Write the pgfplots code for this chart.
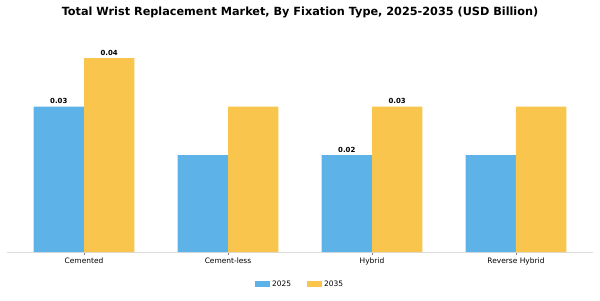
\documentclass[border=0pt]{standalone}
\usepackage{fontspec}
\setmainfont{DejaVu Sans}
\usepackage{pgfplots}
\pgfplotsset{compat=1.18}
\definecolor{cblue}{HTML}{5DB3E8}
\definecolor{cyellow}{HTML}{F9C54C}
\definecolor{axgray}{HTML}{DDDDDD}
\begin{document}
\begin{tikzpicture}[x=1bp,y=1bp]
\path[use as bounding box] (0,0) rectangle (600,300);
\begin{axis}[
  at={(7bp,48bp)}, anchor=south west,
  scale only axis,
  width=586bp, height=218bp,
  xmin=-0.535, xmax=3.535,
  ymin=0, ymax=0.045,
  axis x line*=bottom,
  axis y line=none,
  x axis line style={draw=axgray, line width=0.8pt},
  xtick={0,1,2,3},
  xticklabels={Cemented,Cement-less,Hybrid,Reverse Hybrid},
  major tick length=3bp,
  tick align=outside,
  x tick style={draw=gray, line width=0.5pt},
  xticklabel style={font=\fontsize{7.5}{9}\selectfont, text=black, yshift=1bp},
  ybar, bar width=0.35,
  title={Total Wrist Replacement Market, By Fixation Type, 2025-2035 (USD Billion)},
  every axis title/.style={at={(axis description cs:0.5,1)}, anchor=center, yshift=22bp, font=\bfseries\fontsize{11.3}{13}\selectfont},
  point meta=explicit symbolic,
  nodes near coords={\pgfplotspointmeta},
  nodes near coords style={font=\bfseries\fontsize{7}{8}\selectfont, anchor=south, inner sep=2.5bp},
  legend columns=2,
  legend style={at={(axis description cs:0.5,-0.147)}, anchor=center, draw=none, fill=none,
    font=\fontsize{7.5}{9}\selectfont, /tikz/every even column/.append style={column sep=14bp}},
  legend image code/.code={\fill[#1] (0bp,-3bp) rectangle (15bp,3bp);},
]
\addplot[fill=cblue, draw=none, bar shift=-0.175] coordinates {
  (0,0.03) [0.03]
  (1,0.02) []
  (2,0.02) [0.02]
  (3,0.02) []
};
\addlegendentry{2025}
\addplot[fill=cyellow, draw=none, bar shift=0.175] coordinates {
  (0,0.04) [0.04]
  (1,0.03) []
  (2,0.03) [0.03]
  (3,0.03) []
};
\addlegendentry{2035}
\end{axis}
\end{tikzpicture}
\end{document}
